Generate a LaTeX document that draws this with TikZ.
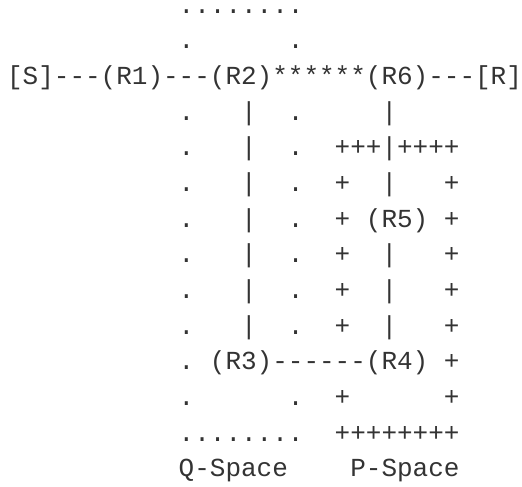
\documentclass[tikz,border=0pt]{standalone}
\usepackage{fontspec}
\setmonofont{Liberation Mono}
\definecolor{ink}{HTML}{333333}
\tikzset{
  asciirow/.style={anchor=base west, inner sep=0pt, outer sep=0pt,
    font=\ttfamily\fontsize{26}{30}\selectfont, text=ink}
}
\begin{document}
\begin{tikzpicture}[x=1pt,y=-1pt]
\useasboundingbox (0,0) rectangle (522,487);
\def\lx{7.1}
\node[asciirow] (l1)  at (\lx, 13.3) {~~~~~~~~~~~........};
\node[asciirow] (l2)  at (\lx, 48.95) {~~~~~~~~~~~.~~~~~~.};
\node[asciirow] (l3)  at (\lx, 84.6) {[S]---(R1)---(R2)******(R6)---[R]};
\node[asciirow] (l4)  at (\lx,120.25) {~~~~~~~~~~~.~~~|~~.~~~~~|};
\node[asciirow] (l5)  at (\lx,155.9) {~~~~~~~~~~~.~~~|~~.~~+++|++++};
\node[asciirow] (l6)  at (\lx,191.55) {~~~~~~~~~~~.~~~|~~.~~+~~|~~~+};
\node[asciirow] (l7)  at (\lx,227.2) {~~~~~~~~~~~.~~~|~~.~~+~(R5)~+};
\node[asciirow] (l8)  at (\lx,262.85) {~~~~~~~~~~~.~~~|~~.~~+~~|~~~+};
\node[asciirow] (l9)  at (\lx,298.5) {~~~~~~~~~~~.~~~|~~.~~+~~|~~~+};
\node[asciirow] (l10) at (\lx,334.15) {~~~~~~~~~~~.~~~|~~.~~+~~|~~~+};
\node[asciirow] (l11) at (\lx,369.8) {~~~~~~~~~~~.~(R3)------(R4)~+};
\node[asciirow] (l12) at (\lx,405.45) {~~~~~~~~~~~.~~~~~~.~~+~~~~~~+};
\node[asciirow] (l13) at (\lx,441.1) {~~~~~~~~~~~........~~++++++++};
\node[asciirow] (l14) at (\lx,476.75) {~~~~~~~~~~~Q-Space~~~~P-Space};
\end{tikzpicture}
\end{document}
